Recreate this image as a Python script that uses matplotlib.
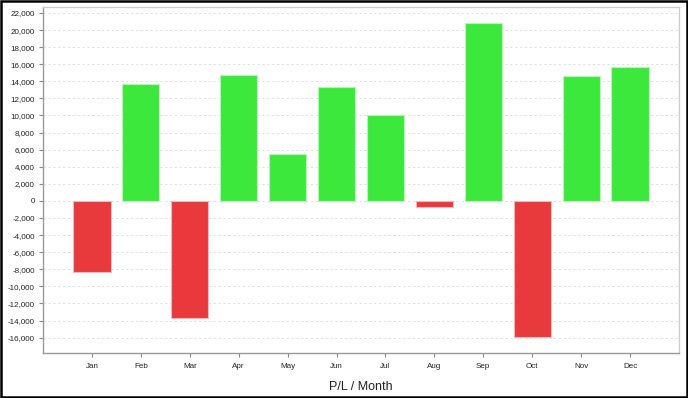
import numpy as np
import matplotlib.pyplot as plt
from matplotlib.patches import Rectangle
from matplotlib.ticker import FuncFormatter, MultipleLocator


# ===============================
# Data
# ===============================

MONTHS = ["Jan", "Feb", "Mar", "Apr", "May", "Jun",
          "Jul", "Aug", "Sep", "Oct", "Nov", "Dec"]
PROFIT_LOSS = [-8300, 13700, -13700, 14700, 5500, 13300,
               10000, -700, 20800, -15900, 14600, 15700]

GREEN = "#3de83d"
RED = "#e8393d"


# ===============================
# Plot
# ===============================

plt.rcParams["font.family"] = ["Liberation Sans", "DejaVu Sans"]

fig = plt.figure(figsize=(6.88, 3.98), dpi=100)
ax = fig.add_axes([43 / 688, 45 / 398, 636 / 688, 346 / 398])

x = np.arange(len(MONTHS))
values = np.array(PROFIT_LOSS)
colors = [GREEN if v >= 0 else RED for v in values]
edges = ["#b8f5b8" if v >= 0 else "#f5b8ba" for v in values]

ax.bar(x, values, width=0.76, color=colors, edgecolor=edges,
       linewidth=0.8, zorder=3)

ax.set_xlim(-1.0, 12.0)
ax.set_ylim(-17800, 22700)
ax.yaxis.set_major_locator(MultipleLocator(2000))
ax.yaxis.set_major_formatter(FuncFormatter(lambda v, p: f"{int(v):,}"))
ax.set_xticks(x)
ax.set_xticklabels(MONTHS)

ax.grid(axis="y", color="#e2e2e2", linestyle=(0, (2.5, 2.5)), linewidth=0.7, zorder=0)
ax.tick_params(axis="both", labelsize=5.8, colors="#888888", length=3,
               width=0.8, labelcolor="#222222", pad=3)
ax.tick_params(axis="x", pad=4)

for side in ["left", "bottom"]:
    ax.spines[side].set_color("#999999")
    ax.spines[side].set_linewidth(1.0)
for side in ["top", "right"]:
    ax.spines[side].set_color("#cccccc")
    ax.spines[side].set_linewidth(1.0)

ax.set_xlabel("P/L / Month", fontsize=9, color="#222222", labelpad=8)

# outer black border
fig.patches.append(Rectangle((0.002, 0.003), 0.996, 0.994,
                             transform=fig.transFigure, fill=False,
                             edgecolor="black", linewidth=1.8))

fig.savefig("out.png", dpi=100)
